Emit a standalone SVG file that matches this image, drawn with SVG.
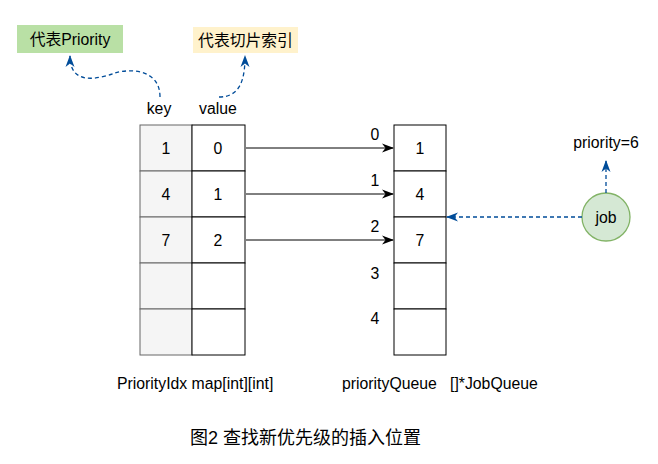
<svg xmlns="http://www.w3.org/2000/svg" width="658" height="464" viewBox="0 0 658 464">
<style>
text{font-family:"Liberation Sans","Noto Sans CJK SC",Arial,sans-serif;fill:#000;font-size:15.8px}
.c{text-anchor:middle}
.cell{fill:#fff;stroke:#000;stroke-width:1}
.key{fill:#f5f5f5;stroke:#666;stroke-width:1}
.blk{fill:none;stroke:#000;stroke-width:1}
.blue{fill:none;stroke:#004C99;stroke-width:1.3;stroke-dasharray:4 3}
</style>
<defs>
<marker id="ab" viewBox="0 0 12 10" refX="11" refY="5" markerWidth="12" markerHeight="10" markerUnits="userSpaceOnUse" orient="auto">
<path d="M0,0.5 L12,5 L0,9.5 L3.5,5 Z" fill="#000"/>
</marker>
<marker id="au" viewBox="0 0 12 10" refX="11" refY="5" markerWidth="12" markerHeight="10" markerUnits="userSpaceOnUse" orient="auto">
<path d="M0,0.5 L12,5 L0,9.5 L3.5,5 Z" fill="#004C99"/>
</marker>
</defs>
<rect width="658" height="464" fill="#fff"/>
<g id="note-priority">
<rect x="17" y="25" width="106" height="28" fill="#b9e0a5"/>
<text class="c" x="70" y="45">代表Priority</text>
</g>
<g id="note-index">
<rect x="193" y="27" width="105" height="26" fill="#fff2cc"/>
<text class="c" x="245.5" y="45.5">代表切片索引</text>
</g>
<g id="header-key"><text class="c" x="159" y="114">key</text></g>
<g id="header-value"><text class="c" x="218" y="114">value</text></g>
<g id="map-table">
<rect class="key" x="140" y="125" width="52" height="46"/>
<rect class="key" x="140" y="171" width="52" height="46"/>
<rect class="key" x="140" y="217" width="52" height="46"/>
<rect class="key" x="140" y="263" width="52" height="46"/>
<rect class="key" x="140" y="309" width="52" height="46"/>
<rect class="cell" x="192" y="125" width="53" height="46"/>
<rect class="cell" x="192" y="171" width="53" height="46"/>
<rect class="cell" x="192" y="217" width="53" height="46"/>
<rect class="cell" x="192" y="263" width="53" height="46"/>
<rect class="cell" x="192" y="309" width="53" height="46"/>
<text class="c" x="166" y="153.5" fill="#333">1</text>
<text class="c" x="166" y="199.5">4</text>
<text class="c" x="166" y="245.5">7</text>
<text class="c" x="218" y="153.5">0</text>
<text class="c" x="218" y="199.5">1</text>
<text class="c" x="218" y="245.5">2</text>
</g>
<g id="queue-table">
<rect class="cell" x="394" y="125" width="52" height="46"/>
<rect class="cell" x="394" y="171" width="52" height="46"/>
<rect class="cell" x="394" y="217" width="52" height="46"/>
<rect class="cell" x="394" y="263" width="52" height="46"/>
<rect class="cell" x="394" y="309" width="52" height="46"/>
<text class="c" x="420" y="153.5">1</text>
<text class="c" x="420" y="199.5">4</text>
<text class="c" x="420" y="245.5">7</text>
</g>
<g id="queue-indices">
<text class="c" x="375" y="140">0</text>
<text class="c" x="375" y="185.5">1</text>
<text class="c" x="375" y="232">2</text>
<text class="c" x="375" y="278.5">3</text>
<text class="c" x="375" y="323.5">4</text>
</g>
<g id="job">
<circle cx="606" cy="217" r="24" fill="#d5e8d4" stroke="#82b366" stroke-width="1.3"/>
<text class="c" x="606" y="222.5">job</text>
</g>
<g id="priority-label"><text class="c" x="606" y="147.5">priority=6</text></g>
<g id="labels">
<text x="117" y="388.5">PriorityIdx map[int][int]</text>
<text x="342" y="388.5" xml:space="preserve" style="white-space:pre">priorityQueue   []*JobQueue</text>
<text class="c" x="305.5" y="444" style="font-size:18px">图2 查找新优先级的插入位置</text>
</g>
<g id="connectors">
<path class="blk" d="M246,148 L393,148" marker-end="url(#ab)"/>
<path class="blk" d="M246,194 L393,194" marker-end="url(#ab)"/>
<path class="blk" d="M246,240 L393,240" marker-end="url(#ab)"/>
<path class="blue" d="M160,97 C160,70 132,68 115,73 C98,79 70,86 70,56" marker-end="url(#au)"/>
<path class="blue" d="M219,97 C240,97 245,80 245,56" marker-end="url(#au)"/>
<path class="blue" d="M606,193 L606,161" marker-end="url(#au)"/>
<path class="blue" d="M582,217 L447,217" marker-end="url(#au)"/>
</g>
</svg>
